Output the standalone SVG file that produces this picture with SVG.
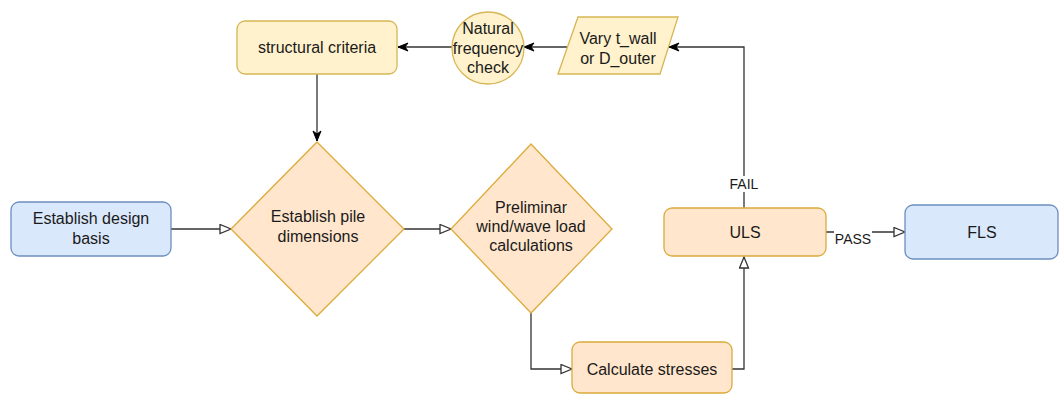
<svg xmlns="http://www.w3.org/2000/svg" width="1059" height="394" viewBox="0 0 1059 394">
<style>
text{font-family:"Liberation Sans",Arial,sans-serif;font-size:16px;fill:#1a1a1a;text-anchor:middle}
.lbl{font-size:14px}
.yel{fill:#fff2cc;stroke:#d6b656;stroke-width:1.3}
.org{fill:#ffe6cc;stroke:#dcab3a;stroke-width:1.3}
.blu{fill:#dae8fc;stroke:#6c8ebf;stroke-width:1.3}
.edge{fill:none;stroke:#333;stroke-width:1.3}
</style>
<defs>
<marker id="open" markerUnits="userSpaceOnUse" markerWidth="13" markerHeight="11" refX="12" refY="5.5" orient="auto">
<path d="M1,1 L12,5.5 L1,10 Z" fill="#fff" stroke="#333" stroke-width="1.3"/>
</marker>
<marker id="classic" markerUnits="userSpaceOnUse" markerWidth="12" markerHeight="10" refX="11" refY="5" orient="auto">
<path d="M1,1 L11,5 L1,9 L4,5 Z" fill="#000" stroke="#000" stroke-width="1"/>
</marker>
</defs>
<g id="connectors">
<path class="edge" d="M317,74 L317,141" marker-end="url(#classic)"/>
<path class="edge" d="M171,229 L231,229" marker-end="url(#open)"/>
<path class="edge" d="M404,229 L451,229" marker-end="url(#open)"/>
<path class="edge" d="M531,313 L531,369 L572,369" marker-end="url(#open)"/>
<path class="edge" d="M732,369 L744,369 L744,257" marker-end="url(#open)"/>
<path class="edge" d="M744,208 L744,47 L669,47" marker-end="url(#classic)"/>
<path class="edge" d="M568,47 L524,47" marker-end="url(#classic)"/>
<path class="edge" d="M452,47 L398,47" marker-end="url(#classic)"/>
<path class="edge" d="M826,232 L905,232" marker-end="url(#open)"/>
<rect x="728" y="176" width="32" height="16" fill="#fff"/>
<text class="lbl" x="744" y="189">FAIL</text>
<rect x="834" y="231" width="38" height="15" fill="#fff"/>
<text class="lbl" x="853" y="243.5">PASS</text>
</g>
<g id="structural-criteria">
<rect class="yel" x="237" y="21" width="160" height="53" rx="8"/>
<text x="317" y="53">structural criteria</text>
</g>
<g id="natural-frequency">
<circle class="yel" cx="488" cy="48" r="36"/>
<text x="488" y="33.5">Natural</text>
<text x="488" y="53.5">frequency</text>
<text x="488" y="72.5">check</text>
</g>
<g id="vary">
<path class="yel" d="M558,74 L578,17 L678,17 L660,74 Z"/>
<text x="618" y="43.5">Vary t_wall</text>
<text x="618" y="63.5">or D_outer</text>
</g>
<g id="design-basis">
<rect class="blu" x="11" y="202" width="160" height="54" rx="8"/>
<text x="91" y="223.5">Establish design</text>
<text x="91" y="243.5">basis</text>
</g>
<g id="pile-dimensions">
<path class="org" d="M317,142 L404,229 L317,316 L231,229 Z"/>
<text x="318" y="221.5">Establish pile</text>
<text x="318" y="241.5">dimensions</text>
</g>
<g id="preliminar">
<path class="org" d="M531,144 L612,229 L531,313 L451,229 Z"/>
<text x="531" y="212.5">Preliminar</text>
<text x="531" y="232">wind/wave load</text>
<text x="531" y="251">calculations</text>
</g>
<g id="calculate-stresses">
<rect class="org" x="572" y="342" width="160" height="51" rx="8"/>
<text x="652" y="374.5">Calculate stresses</text>
</g>
<g id="uls">
<rect class="org" x="664" y="208" width="162" height="48" rx="8"/>
<text x="745" y="237.5">ULS</text>
</g>
<g id="fls">
<rect class="blu" x="905" y="205" width="153" height="54" rx="8"/>
<text x="982" y="237.5">FLS</text>
</g>
</svg>
